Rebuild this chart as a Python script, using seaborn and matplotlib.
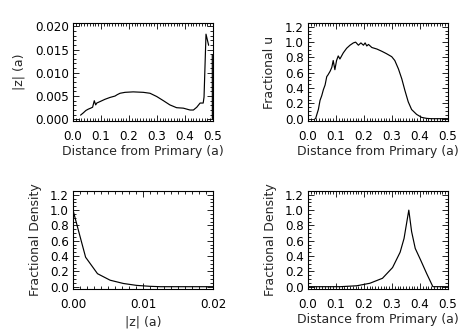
import matplotlib
matplotlib.use("Agg")
import matplotlib.pyplot as plt
from matplotlib.ticker import MultipleLocator, FormatStrFormatter
import seaborn as sns

# panel 1: |z| against distance from primary
z_dist = [0.027, 0.037, 0.046, 0.055, 0.063, 0.070, 0.076, 0.081, 0.085, 0.096,
          0.114, 0.132, 0.150, 0.158, 0.168, 0.186, 0.215, 0.251, 0.275, 0.299,
          0.323, 0.346, 0.370, 0.394, 0.418, 0.430, 0.442, 0.454, 0.465, 0.468,
          0.475, 0.4845]
z_abs = [0.0009, 0.0014, 0.0019, 0.0022, 0.0024, 0.0026, 0.0040, 0.0031, 0.0035, 0.0038,
         0.0043, 0.0047, 0.0050, 0.0053, 0.0056, 0.0058, 0.0059, 0.0058, 0.0056, 0.0049,
         0.0040, 0.0031, 0.0025, 0.0024, 0.0020, 0.0020, 0.0026, 0.0035, 0.0035, 0.0048,
         0.0183, 0.0159]
edge_dist = [0.4975, 0.4978]
edge_z = [0.0139, 0.0]

# panel 2: fractional u
u_dist = [0.027, 0.037, 0.043, 0.049, 0.055, 0.061, 0.067, 0.071, 0.079, 0.085,
          0.090, 0.096, 0.102, 0.108, 0.114, 0.126, 0.138, 0.150, 0.162, 0.170,
          0.180, 0.189, 0.198, 0.204, 0.210, 0.216, 0.228, 0.246, 0.264, 0.280,
          0.299, 0.310, 0.323, 0.335, 0.346, 0.358, 0.370, 0.388, 0.406, 0.424,
          0.440, 0.500]
u_frac = [0.00, 0.12, 0.24, 0.30, 0.38, 0.44, 0.55, 0.57, 0.62, 0.67,
          0.76, 0.64, 0.76, 0.82, 0.78, 0.86, 0.92, 0.96, 0.99, 1.00,
          0.96, 0.99, 0.96, 0.99, 0.95, 0.97, 0.93, 0.91, 0.88, 0.85,
          0.81, 0.76, 0.65, 0.52, 0.37, 0.22, 0.12, 0.056, 0.017, 0.004,
          0.0, 0.0]

# panel 3: fractional density against |z|
dz = [0.0, 0.0018, 0.0035, 0.0053, 0.0072, 0.0091, 0.0110, 0.0125, 0.0200]
dens_z = [1.0, 0.385, 0.17, 0.085, 0.042, 0.017, 0.005, 0.0, 0.0]

# panel 4: fractional density against distance
dd = [0.0, 0.114, 0.174, 0.221, 0.266, 0.302, 0.329, 0.343, 0.360, 0.370,
      0.383, 0.402, 0.424, 0.446, 0.500]
dens_d = [0.0, 0.0, 0.012, 0.045, 0.11, 0.25, 0.45, 0.63, 1.0, 0.72,
          0.50, 0.35, 0.17, 0.0, 0.0]

sns.set_style("ticks")
plt.rcParams['font.family'] = ['DejaVu Sans']
plt.rcParams['font.size'] = 8

fig = plt.figure(figsize=(4.71, 3.36), dpi=100)
W, H = 471, 336
aw, ah = 140 / W, 98 / H
ax1 = fig.add_axes([73 / W, 1 - 121 / H, aw, ah])
ax2 = fig.add_axes([308 / W, 1 - 121 / H, aw, ah])
ax3 = fig.add_axes([73 / W, 1 - 289 / H, aw, ah])
ax4 = fig.add_axes([308 / W, 1 - 289 / H, aw, ah])

lw = 0.85
sns.lineplot(x=z_dist, y=z_abs, ax=ax1, color='black', lw=lw, sort=False, estimator=None)
sns.lineplot(x=edge_dist, y=edge_z, ax=ax1, color='black', lw=lw, sort=False, estimator=None)
sns.lineplot(x=u_dist, y=u_frac, ax=ax2, color='black', lw=lw, sort=False, estimator=None)
sns.lineplot(x=dz, y=dens_z, ax=ax3, color='black', lw=lw, sort=False, estimator=None)
sns.lineplot(x=dd, y=dens_d, ax=ax4, color='black', lw=lw, sort=False, estimator=None)

lab = 9
for ax in (ax1, ax2, ax3, ax4):
    for s in ax.spines.values():
        s.set_visible(True)
        s.set_linewidth(0.8)
        s.set_color('black')
    ax.tick_params(which='both', direction='in', top=True, right=True,
                   width=0.6, colors='black', labelsize=8.6)
    ax.tick_params(which='major', length=4, pad=3)
    ax.tick_params(axis='x', which='major', pad=6.5)
    ax.tick_params(which='minor', length=2)

for ax in (ax1, ax2, ax4):
    ax.set_xlim(0, 0.5)
    ax.xaxis.set_major_locator(MultipleLocator(0.1))
    ax.xaxis.set_minor_locator(MultipleLocator(0.01))
    ax.xaxis.set_major_formatter(FormatStrFormatter('%.1f'))
    ax.set_xlabel('Distance from Primary (a)', fontsize=lab)

ax1.set_ylim(-0.00036, 0.0207)
ax1.yaxis.set_major_locator(MultipleLocator(0.005))
ax1.yaxis.set_minor_locator(MultipleLocator(0.001))
ax1.yaxis.set_major_formatter(FormatStrFormatter('%.3f'))
ax1.set_ylabel('|z| (a)', fontsize=lab)

ax3.set_xlim(0, 0.02)
ax3.xaxis.set_major_locator(MultipleLocator(0.01))
ax3.xaxis.set_minor_locator(MultipleLocator(0.001))
ax3.xaxis.set_major_formatter(FormatStrFormatter('%.2f'))
ax3.set_xlabel('|z| (a)', fontsize=lab)

for ax in (ax2, ax3, ax4):
    ax.set_ylim(-0.03, 1.25)
    ax.yaxis.set_major_locator(MultipleLocator(0.2))
    ax.yaxis.set_minor_locator(MultipleLocator(0.05))
    ax.yaxis.set_major_formatter(FormatStrFormatter('%.1f'))
ax2.set_ylabel('Fractional u', fontsize=lab)
ax3.set_ylabel('Fractional Density', fontsize=lab)
ax4.set_ylabel('Fractional Density', fontsize=lab)

ax1.yaxis.set_label_coords(-0.336, 0.5)
ax2.yaxis.set_label_coords(-0.231, 0.5)
ax3.yaxis.set_label_coords(-0.224, 0.5)
ax4.yaxis.set_label_coords(-0.224, 0.5)
for ax in (ax1, ax2, ax4):
    ax.xaxis.set_label_coords(0.5, -0.24)
ax3.xaxis.set_label_coords(0.5, -0.27)

fig.savefig('out.png', dpi=100, facecolor='white')
